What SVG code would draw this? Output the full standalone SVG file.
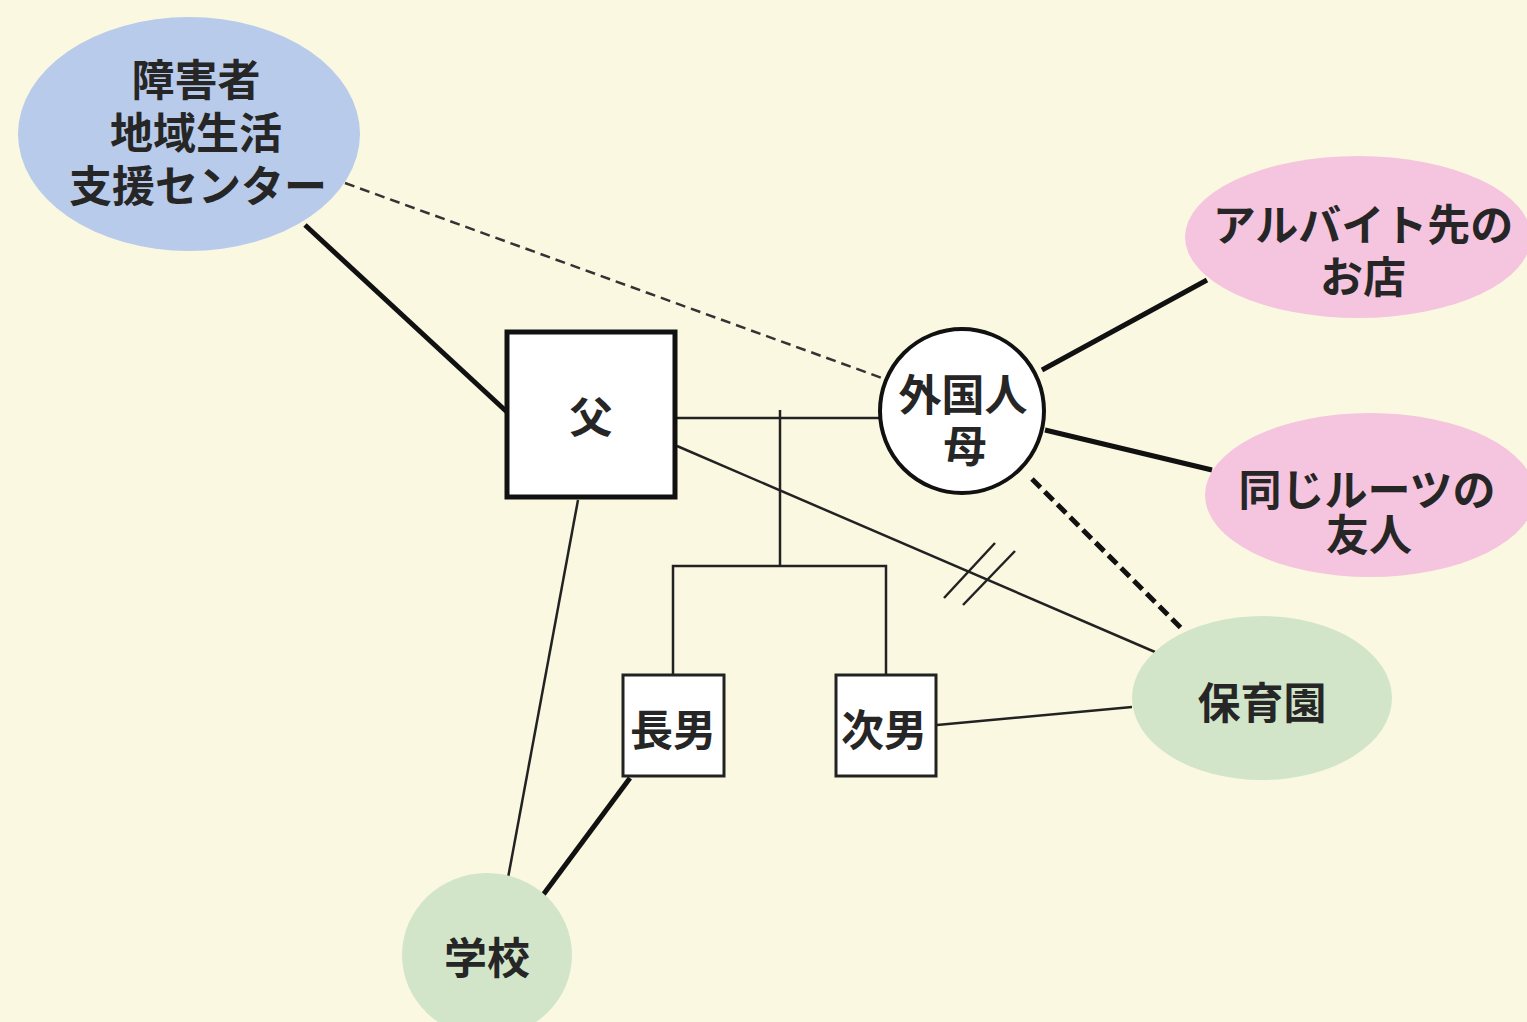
<svg xmlns="http://www.w3.org/2000/svg" width="1527" height="1022" viewBox="0 0 1527 1022">
<style>
text{font-family:"Noto Sans CJK JP","Noto Sans",sans-serif;font-size:43px;font-weight:700;fill:#262626;text-anchor:middle;dominant-baseline:central}
.thin{stroke:#222;stroke-width:2.5;fill:none}
.thick{stroke:#111;stroke-width:5;fill:none}
.dash{stroke:#333;stroke-width:2.5;stroke-dasharray:10 6;fill:none}
.tdash{stroke:#111;stroke-width:5;stroke-dasharray:12 6;fill:none}
.blue{fill:#b9cbea}
.pink{fill:#f5c4de}
.green{fill:#d2e5c9}
</style>
<rect width="1527" height="1022" fill="#fbf8e2"/>
<g id="connectors">
<line class="thick" x1="305" y1="225" x2="507" y2="412"/>
<line class="dash" x1="345" y1="183" x2="882" y2="378"/>
<line class="thin" x1="677" y1="418" x2="880" y2="418"/>
<polyline class="thin" points="780,410 780,566"/>
<polyline class="thin" points="673,675 673,566 886,566 886,675"/>
<line class="thin" x1="677" y1="446" x2="1155" y2="652"/>
<line class="thin" x1="944" y1="598" x2="995" y2="543"/>
<line class="thin" x1="963" y1="605" x2="1015" y2="551"/>
<line class="thick" x1="1042" y1="370" x2="1207" y2="280"/>
<line class="thick" x1="1045" y1="430" x2="1212" y2="470"/>
<line class="tdash" x1="1032" y1="479" x2="1183" y2="630"/>
<line class="thin" x1="937" y1="725" x2="1132" y2="707"/>
<line class="thin" x1="578" y1="500" x2="508" y2="878"/>
<line class="thick" x1="630" y1="778" x2="543" y2="895"/>
</g>
<g id="center">
<ellipse class="blue" cx="189" cy="134" rx="171" ry="117"/>
<text x="196" y="77">障害者</text>
<text x="196" y="130">地域生活</text>
<text x="198" y="183">支援センター</text>
</g>
<g id="baito">
<ellipse class="pink" cx="1358" cy="237" rx="173" ry="81"/>
<text x="1363" y="222">アルバイト先の</text>
<text x="1363" y="274">お店</text>
</g>
<g id="friends">
<ellipse class="pink" cx="1370" cy="495" rx="165" ry="82"/>
<text x="1367" y="487">同じルーツの</text>
<text x="1369" y="532">友人</text>
</g>
<g id="father">
<rect x="507" y="332" width="168" height="165" fill="#fff" stroke="#111" stroke-width="5"/>
<text x="591" y="414">父</text>
</g>
<g id="mother">
<circle cx="962" cy="411" r="82" fill="#fff" stroke="#111" stroke-width="4"/>
<text x="963" y="392">外国人</text>
<text x="965" y="443">母</text>
</g>
<g id="son1">
<rect x="623" y="675" width="101" height="101" fill="#fff" stroke="#222" stroke-width="3"/>
<text x="673" y="727">長男</text>
</g>
<g id="son2">
<rect x="836" y="675" width="100" height="101" fill="#fff" stroke="#222" stroke-width="3"/>
<text x="884" y="727">次男</text>
</g>
<g id="nursery">
<ellipse class="green" cx="1262" cy="698" rx="130" ry="82"/>
<text x="1262" y="700">保育園</text>
</g>
<g id="school">
<ellipse class="green" cx="487" cy="955" rx="85" ry="82"/>
<text x="487" y="955">学校</text>
</g>
</svg>
